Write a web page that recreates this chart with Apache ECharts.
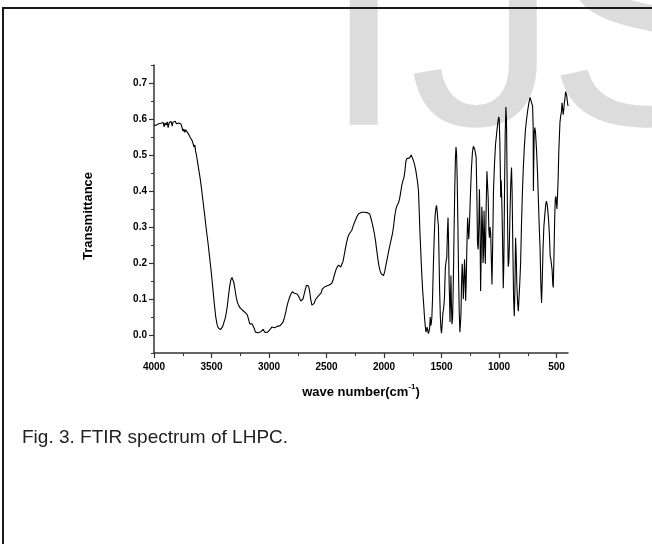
<!DOCTYPE html>
<html>
<head>
<meta charset="utf-8">
<script src="https://cdn.jsdelivr.net/npm/echarts@6/dist/echarts.min.js"></script>
<style>
html,body{margin:0;padding:0;background:#fff;}
#chart{width:652px;height:544px;}
</style>
</head>
<body>
<div id="chart"></div>
<script>
// ---- data (wave number in cm^-1, transmittance) ----
const waveNumber = [
4000,3990,3980,3970,3960,3950,3940,3930,3920,3912,3905,3895,3885,3877,3868,3860,3850,3842,3835,3825,3815,3805,3795,3785,3775,3765,3755,3748,3740,3732,3724,3716,3708,3700,3692,3684,3676,3668,3660,3652,3645,3638,3630,3620,3610,3600,3590,3575,3560,3545,3530,3515,3500,3488,3475,3463,3452,3442,3432,3422,3412,3402,3392,3382,3372,3362,3352,3342,3332,3322,3314,3305,3295,3285,3275,3262,3248,3235,3220,3205,3192,3183,3175,3167,3158,3148,3138,3128,3118,3108,3095,3082,3070,3060,3052,3044,3035,3025,3012,3000,2988,2976,2968,2960,2950,2940,2928,2915,2903,2890,2878,2866,2855,2845,2834,2822,2810,2798,2788,2778,2766,2755,2744,2734,2724,2714,2705,2695,2685,2674,2665,2656,2646,2637,2627,2617,2607,2597,2585,2572,2560,2548,2536,2524,2510,2496,2482,2468,2455,2444,2432,2420,2408,2396,2386,2376,2366,2356,2346,2336,2326,2314,2304,2292,2280,2268,2256,2244,2232,2220,2208,2196,2184,2172,2160,2148,2136,2124,2114,2104,2094,2084,2074,2064,2054,2044,2034,2024,2014,2004,1994,1984,1972,1960,1948,1936,1926,1916,1906,1896,1886,1876,1866,1856,1846,1836,1826,1818,1810,1802,1794,1786,1778,1770,1763,1756,1748,1740,1732,1724,1716,1708,1700,1694,1688,1682,1676,1670,1663,1656,1648,1641,1635,1630,1625,1620,1614,1608,1603,1598,1594,1589,1584,1578,1571,1563,1556,1549,1543,1537,1532,1527,1522,1516,1510,1505,1500,1494,1488,1481,1474,1467,1460,1454,1448,1443,1438,1434,1430,1426,1422,1418,1414,1409,1403,1397,1391,1385,1379,1374,1369,1364,1358,1352,1346,1340,1336,1331,1326,1320,1315,1310,1305,1300,1295,1290,1285,1279,1273,1268,1263,1257,1249,1240,1231,1223,1217,1211,1205,1199,1193,1187,1181,1176,1170,1165,1160,1155,1149,1143,1139,1135,1130,1124,1119,1112,1105,1100,1094,1088,1083,1078,1072,1066,1061,1055,1048,1040,1030,1020,1010,1003,998,993,988,985,981,976,970,963,958,952,946,940,935,930,925,920,915,910,905,898,891,886,880,873,867,862,856,851,845,838,832,827,820,812,805,796,789,780,770,760,750,740,730,721,714,708,703,701,697,694,688,682,673,665,658,650,643,636,630,624,617,610,600,593,587,580,574,569,562,555,549,543,538,532,528,522,516,511,506,500,496,491,486,480,475,470,463,457,452,447,442,437,432,427,421,416,411,406,400
];
const transmittance = [
0.582,0.584,0.583,0.586,0.587,0.585,0.588,0.584,0.590,0.578,0.589,0.583,0.592,0.576,0.590,0.585,0.593,0.580,0.591,0.586,0.594,0.587,0.592,0.589,0.584,0.586,0.575,0.566,0.572,0.563,0.570,0.565,0.566,0.558,0.560,0.548,0.552,0.540,0.536,0.522,0.528,0.510,0.498,0.478,0.458,0.438,0.415,0.375,0.335,0.293,0.255,0.212,0.168,0.128,0.085,0.050,0.030,0.020,0.018,0.015,0.017,0.024,0.035,0.045,0.060,0.082,0.110,0.135,0.153,0.160,0.157,0.145,0.125,0.105,0.091,0.081,0.074,0.070,0.066,0.062,0.058,0.050,0.040,0.031,0.032,0.031,0.025,0.018,0.008,0.005,0.006,0.007,0.009,0.014,0.016,0.012,0.007,0.006,0.008,0.011,0.016,0.022,0.025,0.020,0.020,0.022,0.024,0.022,0.026,0.029,0.036,0.048,0.062,0.078,0.092,0.104,0.113,0.120,0.121,0.116,0.118,0.114,0.108,0.102,0.094,0.091,0.100,0.112,0.126,0.138,0.142,0.136,0.120,0.099,0.083,0.078,0.088,0.098,0.103,0.108,0.113,0.116,0.128,0.133,0.135,0.137,0.138,0.139,0.143,0.152,0.166,0.179,0.188,0.194,0.196,0.189,0.192,0.205,0.222,0.240,0.256,0.272,0.280,0.284,0.291,0.303,0.313,0.322,0.331,0.337,0.340,0.341,0.339,0.341,0.339,0.340,0.339,0.336,0.325,0.312,0.298,0.282,0.262,0.237,0.213,0.192,0.178,0.170,0.166,0.165,0.176,0.193,0.212,0.232,0.250,0.268,0.282,0.304,0.332,0.350,0.360,0.366,0.376,0.394,0.414,0.428,0.438,0.456,0.482,0.490,0.486,0.494,0.492,0.497,0.500,0.494,0.488,0.480,0.470,0.458,0.442,0.424,0.400,0.345,0.290,0.245,0.200,0.160,0.120,0.090,0.050,0.024,0.008,0.006,0.022,0.020,0.004,0.010,0.020,0.050,0.026,0.032,0.048,0.100,0.190,0.275,0.330,0.352,0.360,0.342,0.318,0.305,0.225,0.120,0.050,0.018,0.005,0.030,0.060,0.075,0.105,0.185,0.205,0.215,0.290,0.326,0.250,0.150,0.100,0.036,0.100,0.165,0.090,0.030,0.050,0.150,0.280,0.400,0.490,0.522,0.505,0.440,0.320,0.175,0.065,0.008,0.010,0.055,0.140,0.198,0.165,0.100,0.140,0.210,0.175,0.095,0.150,0.250,0.326,0.300,0.266,0.305,0.385,0.460,0.508,0.524,0.526,0.516,0.505,0.495,0.400,0.255,0.238,0.300,0.405,0.300,0.122,0.220,0.356,0.300,0.200,0.225,0.345,0.250,0.198,0.350,0.455,0.452,0.380,0.290,0.270,0.300,0.280,0.200,0.140,0.250,0.400,0.470,0.530,0.562,0.590,0.606,0.600,0.540,0.450,0.382,0.430,0.380,0.280,0.130,0.200,0.400,0.560,0.633,0.600,0.450,0.300,0.190,0.200,0.250,0.330,0.420,0.465,0.400,0.250,0.100,0.052,0.120,0.270,0.230,0.140,0.090,0.066,0.070,0.140,0.200,0.300,0.400,0.460,0.520,0.570,0.600,0.625,0.645,0.660,0.663,0.655,0.636,0.580,0.400,0.400,0.560,0.576,0.560,0.510,0.450,0.380,0.300,0.240,0.140,0.089,0.150,0.240,0.300,0.340,0.365,0.372,0.360,0.340,0.320,0.280,0.220,0.210,0.205,0.180,0.140,0.132,0.220,0.320,0.375,0.385,0.380,0.350,0.345,0.430,0.510,0.550,0.590,0.610,0.620,0.645,0.630,0.612,0.625,0.645,0.655,0.676,0.672,0.665,0.650,0.636
];
const xTickValues = [4000,3500,3000,2500,2000,1500,1000,500];
const xMinorTickValues = [3750,3250,2750,2250,1750,1250,750];
const yTickValues = [0.0,0.1,0.2,0.3,0.4,0.5,0.6,0.7];
const yMinorTickValues = [-0.05,0.05,0.15,0.25,0.35,0.45,0.55,0.65,0.75];
const xTitle = 'wave number(cm';
const xTitleSup = '-1';
const yTitle = 'Transmittance';
const caption = 'Fig. 3. FTIR spectrum of LHPC.';

const FONT = '"Liberation Sans", Arial, Helvetica, sans-serif';
const AXIS_COLOR = '#333';

const seriesData = waveNumber.map((w, i) => [w, transmittance[i]]);

const chart = echarts.init(document.getElementById('chart'), null, {renderer: 'canvas'});

const gridBox = {left: 154, right: 84, top: 65, bottom: 191};

const option = {
  animation: false,
  backgroundColor: '#ffffff',
  grid: [
    Object.assign({containLabel: false}, gridBox),
    Object.assign({containLabel: false}, gridBox)
  ],
  xAxis: [
    {
      gridIndex: 0, type: 'value', inverse: true, min: 400, max: 4000,
      position: 'bottom',
      axisLine: {show: true, onZero: false, lineStyle: {color: AXIS_COLOR, width: 1.5}},
      axisTick: {show: true, inside: false, length: 5, customValues: xTickValues,
        lineStyle: {color: AXIS_COLOR, width: 1.2}},
      axisLabel: {show: true, customValues: xTickValues, margin: 9,
        fontSize: 10, fontWeight: 'bold', color: '#000', fontFamily: FONT,
        formatter: v => String(Math.round(v))},
      splitLine: {show: false},
      name: '{a|' + xTitle + '}{s|' + xTitleSup + '}{a|)}',
      nameLocation: 'middle', nameGap: 30,
      nameTextStyle: {
        rich: {
          a: {fontSize: 13, fontWeight: 'bold', color: '#000', fontFamily: FONT, lineHeight: 16, verticalAlign: 'bottom'},
          s: {fontSize: 8, fontWeight: 'bold', color: '#000', fontFamily: FONT, lineHeight: 16, verticalAlign: 'top'}
        }
      }
    },
    {
      gridIndex: 1, type: 'value', inverse: true, min: 400, max: 4000,
      position: 'bottom',
      axisLine: {show: false, onZero: false},
      axisTick: {show: true, inside: false, length: 3, customValues: xMinorTickValues,
        lineStyle: {color: AXIS_COLOR, width: 1}},
      axisLabel: {show: false},
      splitLine: {show: false}
    }
  ],
  yAxis: [
    {
      gridIndex: 0, type: 'value', min: -0.05, max: 0.75,
      position: 'left',
      axisLine: {show: true, onZero: false, lineStyle: {color: AXIS_COLOR, width: 1.5}},
      axisTick: {show: true, inside: false, length: 5, customValues: yTickValues,
        lineStyle: {color: AXIS_COLOR, width: 1.2}},
      axisLabel: {show: true, customValues: yTickValues, margin: 7,
        fontSize: 10, fontWeight: 'bold', color: '#000', fontFamily: FONT,
        formatter: v => Number(v).toFixed(1)},
      splitLine: {show: false}
    },
    {
      gridIndex: 1, type: 'value', min: -0.05, max: 0.75,
      position: 'left',
      axisLine: {show: false, onZero: false},
      axisTick: {show: true, inside: false, length: 3, customValues: yMinorTickValues,
        lineStyle: {color: AXIS_COLOR, width: 1}},
      axisLabel: {show: false},
      splitLine: {show: false}
    }
  ],
  series: [{
    type: 'line',
    xAxisIndex: 0, yAxisIndex: 0,
    data: seriesData,
    symbol: 'none',
    smooth: false,
    sampling: null,
    lineStyle: {color: '#000', width: 1.1},
    z: 5
  }],
  graphic: [
    {type: 'text', x: 322, y: 42, z: -10, silent: true,
      style: {text: 'I', font: '300px ' + FONT, fill: '#dcdcdc', align: 'left', verticalAlign: 'middle'}},
    {type: 'text', x: 409, y: 42, z: -10, silent: true,
      style: {text: 'J', font: '300px ' + FONT, fill: '#dcdcdc', align: 'left', verticalAlign: 'middle'}},
    {type: 'text', x: 547, y: 42, z: -10, silent: true,
      style: {text: 'S', font: '300px ' + FONT, fill: '#dcdcdc', align: 'left', verticalAlign: 'middle'}},
    {type: 'text', x: 88.5, y: 216, rotation: Math.PI / 2, z: 10, silent: true,
      style: {text: yTitle, font: 'bold 13px ' + FONT, fill: '#000', align: 'center', verticalAlign: 'middle'}},
    {type: 'text', x: 22, y: 438, z: 10, silent: true,
      style: {text: caption, font: '19px ' + FONT, fill: '#222', align: 'left', verticalAlign: 'middle'}},
    {type: 'rect', z: 20, silent: true,
      shape: {x: 3, y: 8, width: 720, height: 620},
      style: {fill: 'none', stroke: '#1a1a1a', lineWidth: 2}}
  ]
};
chart.setOption(option);
</script>
</body>
</html>
